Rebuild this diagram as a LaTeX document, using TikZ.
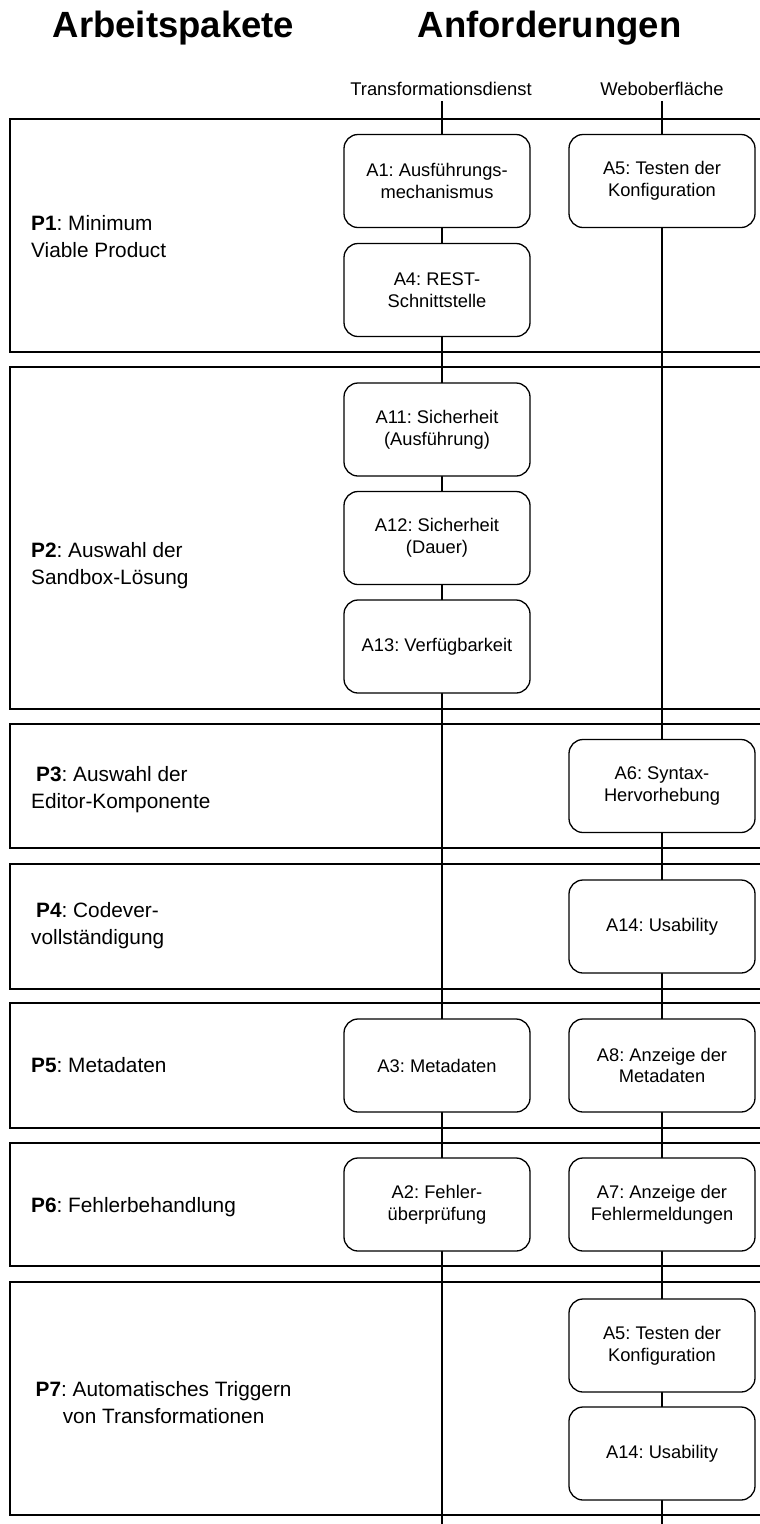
\documentclass[tikz,border=0pt]{standalone}
\usepackage{fontspec}
\setmainfont{Liberation Sans}
\frenchspacing
\begin{document}
\frenchspacing
\begin{tikzpicture}[x=1pt,y=-1pt,
  lane/.style={draw, line width=1.4pt},
  req/.style={draw, fill=white, line width=1.3pt, rounded corners=14pt,
    minimum width=186pt, minimum height=93pt, align=center, inner sep=2pt,
    font=\fontsize{18.3}{21.7}\selectfont},
  plabel/.style={anchor=west, align=left, inner sep=0pt,
    font=\fontsize{20.8}{26.8}\selectfont},
  colhead/.style={anchor=base, inner sep=0pt, font=\fontsize{18.4}{21}\selectfont},
  titletext/.style={anchor=base, inner sep=0pt, font=\fontsize{36.5}{40}\selectfont\bfseries},
  axisline/.style={line width=1.3pt}]

\useasboundingbox (0,0) rectangle (760,1524);
\clip (0,0) rectangle (760,1524);

% titles
\node[titletext] (tArb) at (173.5,37.3) {Arbeitspakete};
\node[titletext] (tAnf) at (549.5,37.3) {Anforderungen};

% column heads
\node[colhead] (hT) at (441,95) {Transformationsdienst};
\node[colhead] (hW) at (662,95) {Weboberfläche};

% lanes
\draw[lane] (10,119) rectangle (790,352);
\draw[lane] (10,367) rectangle (790,709);
\draw[lane] (10,724) rectangle (790,848);
\draw[lane] (10,864) rectangle (790,989);
\draw[lane] (10,1003) rectangle (790,1128);
\draw[lane] (10,1143) rectangle (790,1266);
\draw[lane] (10,1282) rectangle (790,1515);

% column axes
\coordinate (ttop) at (442,101);
\coordinate (tbot) at (442,1530);
\coordinate (wtop) at (662,101);
\coordinate (wbot) at (662,1530);
\draw[axisline] (ttop) -- (tbot);
\draw[axisline] (wtop) -- (wbot);

% lane labels
\node[plabel] (p1) at (31,236.5) {\textbf{P1}: Minimum\\Viable Product};
\node[plabel] (p2) at (31,566) {\textbf{P2}: Auswahl der\\Sandbox-Lösung};
\node[plabel] (p3) at (31,790) {\hspace*{5pt}\textbf{P3}: Auswahl der\\Editor-Komponente};
\node[plabel] (p4) at (31,926) {\hspace*{5pt}\textbf{P4}: Codever-\\vollständigung};
\node[plabel] (p5) at (31,1065.5) {\textbf{P5}: Metadaten};
\node[plabel] (p6) at (31,1207) {\textbf{P6}: Fehlerbehandlung};
\node[plabel, anchor=center, align=center] (p7) at (163.6,1402.5) {\textbf{P7}: Automatisches Triggern\\von Transformationen};

% requirements: Transformationsdienst
\node[req] (a1) at (437,181) {A1: Ausführungs-\\mechanismus};
\node[req] (a4) at (437,290) {A4: REST-\\Schnittstelle};
\node[req] (a11) at (437,429.5) {A11: Sicherheit\\(Ausführung)};
\node[req] (a12) at (437,538) {A12: Sicherheit\\(Dauer)};
\node[req] (a13) at (437,646.5) {A13: Verfügbarkeit};
\node[req] (a3) at (437,1065.5) {A3: Metadaten};
\node[req] (a2) at (437,1204.5) {A2: Fehler-\\überprüfung};

% requirements: Weboberflaeche
\node[req] (a5) at (662,181) {A5: Testen der\\Konfiguration};
\node[req] (a6) at (662,786) {A6: Syntax-\\Hervorhebung};
\node[req] (a14) at (662,926.5) {A14: Usability};
\node[req] (a8) at (662,1065.5) {A8: Anzeige der\\Metadaten};
\node[req] (a7) at (662,1204.5) {A7: Anzeige der\\Fehlermeldungen};
\node[req] (a5b) at (662,1345.5) {A5: Testen der\\Konfiguration};
\node[req] (a14b) at (662,1453.5) {A14: Usability};
\end{tikzpicture}
\end{document}
